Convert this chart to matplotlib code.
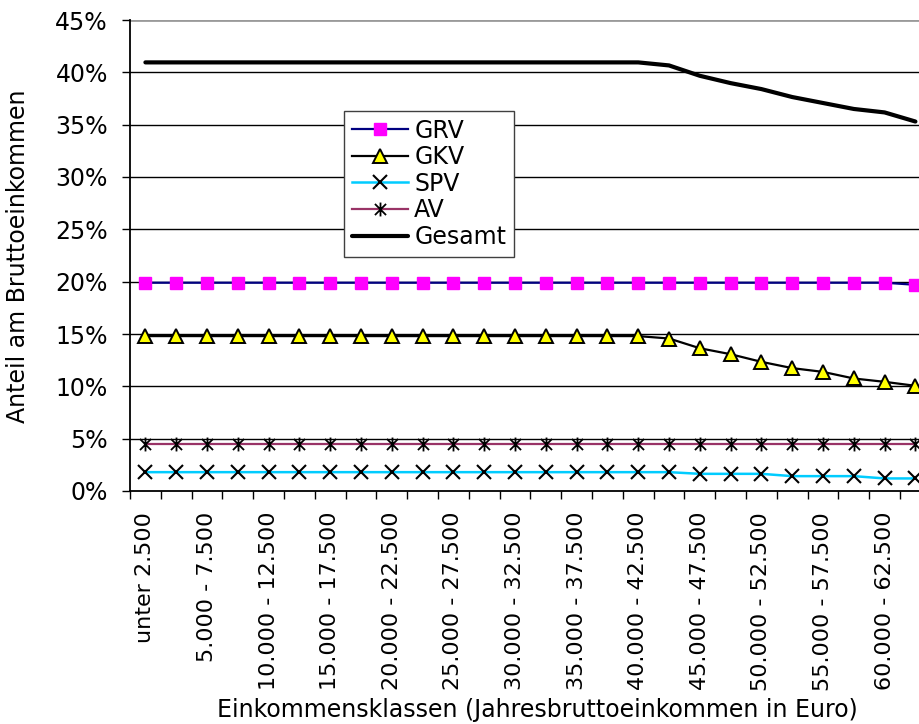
import numpy as np
import matplotlib
matplotlib.use("Agg")
import matplotlib.pyplot as plt
from matplotlib.path import Path

plt.rcParams["font.family"] = ["DejaVu Sans"]
FS = 17

# income classes (Jahresbruttoeinkommen, Euro), 2.500 steps
classes = ["unter 2.500", "2.500 - 5.000", "5.000 - 7.500", "7.500 - 10.000",
           "10.000 - 12.500", "12.500 - 15.000", "15.000 - 17.500", "17.500 - 20.000",
           "20.000 - 22.500", "22.500 - 25.000", "25.000 - 27.500", "27.500 - 30.000",
           "30.000 - 32.500", "32.500 - 35.000", "35.000 - 37.500", "37.500 - 40.000",
           "40.000 - 42.500", "42.500 - 45.000", "45.000 - 47.500", "47.500 - 50.000",
           "50.000 - 52.500", "52.500 - 55.000", "55.000 - 57.500", "57.500 - 60.000",
           "60.000 - 62.500", "62.500 - 65.000"]

# share of gross income, percent
grv = [19.9, 19.9, 19.9, 19.9, 19.9, 19.9, 19.9, 19.9, 19.9, 19.9, 19.9, 19.9, 19.9,
       19.9, 19.9, 19.9, 19.9, 19.9, 19.9, 19.9, 19.9, 19.9, 19.9, 19.9, 19.9, 19.7]
gkv = [14.8, 14.8, 14.8, 14.8, 14.8, 14.8, 14.8, 14.8, 14.8, 14.8, 14.8, 14.8, 14.8,
       14.8, 14.8, 14.8, 14.8, 14.57, 13.64, 13.07, 12.34, 11.74, 11.38, 10.75, 10.43, 10.05]
spv = [1.8, 1.8, 1.8, 1.8, 1.8, 1.8, 1.8, 1.8, 1.8, 1.8, 1.8, 1.8, 1.8,
       1.8, 1.8, 1.8, 1.8, 1.8, 1.64, 1.64, 1.64, 1.42, 1.42, 1.42, 1.2, 1.2]
av = [4.5, 4.5, 4.5, 4.5, 4.5, 4.5, 4.5, 4.5, 4.5, 4.5, 4.5, 4.5, 4.5,
      4.5, 4.5, 4.5, 4.5, 4.5, 4.5, 4.5, 4.5, 4.5, 4.5, 4.5, 4.5, 4.5]
gesamt = [40.95, 40.95, 40.95, 40.95, 40.95, 40.95, 40.95, 40.95, 40.95, 40.95, 40.95,
          40.95, 40.95, 40.95, 40.95, 40.95, 40.95, 40.66, 39.67, 38.97, 38.4, 37.64,
          37.07, 36.5, 36.17, 35.3]

yticks = [0, 5, 10, 15, 20, 25, 30, 35, 40, 45]

# excel-like asterisk: X plus vertical bar
STAR = Path([(-1, -1), (1, 1), (-1, 1), (1, -1), (0, -1.25), (0, 1.25)],
            [Path.MOVETO, Path.LINETO] * 3)

W, H = 919, 724
fig = plt.figure(figsize=(W / 100, H / 100), dpi=100)
step = 30.8
ax = fig.add_axes([130 / W, 1 - 491 / H, len(classes) * step / W, (491 - 20) / H])

x = np.arange(len(classes))
for v in yticks[1:-1]:
    ax.axhline(v, color="black", lw=1.0, zorder=1)
ax.axhline(yticks[-1], color="#9a9a9a", lw=2.0, zorder=1)

ax.plot(x, grv, color="#000080", lw=1.6, marker="s", ms=9, mfc="#ff00ff",
        mec="#ff00ff", label="GRV", zorder=3)
ax.plot(x, gkv, color="black", lw=1.6, marker="^", ms=10, mfc="#ffff00",
        mec="black", mew=1.4, label="GKV", zorder=3)
ax.plot(x, spv, color="#00ccff", lw=1.8, marker="x", ms=10, mec="black",
        mew=1.5, label="SPV", zorder=3)
ax.plot(x, av, color="#993366", lw=1.6, marker=STAR, ms=10, mec="black",
        mew=1.3, label="AV", zorder=3)
ax.plot(x, gesamt, color="black", lw=3.0, solid_joinstyle="round",
        solid_capstyle="round", label="Gesamt", zorder=4)

ax.set_xlim(-0.5, len(classes) - 0.5)
ax.set_ylim(0, 45)
ax.set_yticks(yticks)
ax.set_yticklabels([f"{v}%" for v in yticks])
ax.set_xticks(x[::2])
ax.set_xticklabels(classes[::2], rotation=90)
ax.set_xticks(np.arange(len(classes) + 1) - 0.5, minor=True)
ax.tick_params(axis="x", which="major", length=0, pad=15, labelsize=16)
ax.tick_params(axis="x", which="minor", length=6, width=1.0, direction="out")
ax.tick_params(axis="y", length=6, width=1.0, pad=10, labelsize=FS)

for s in ["top", "right"]:
    ax.spines[s].set_visible(False)
for s in ["left", "bottom"]:
    ax.spines[s].set_linewidth(1.3)

fig.text(18 / W, 1 - 256 / H, "Anteil am Bruttoeinkommen", rotation=90,
         ha="center", va="center", fontsize=FS)
fig.text(537 / W, 1 - 710 / H, "Einkommensklassen (Jahresbruttoeinkommen in Euro)",
         ha="center", va="center", fontsize=FS)

leg = ax.legend(loc="upper left", bbox_to_anchor=(344 / W, 1 - 111 / H),
                bbox_transform=fig.transFigure, fontsize=FS, frameon=True,
                fancybox=False, framealpha=1, edgecolor="#404040", numpoints=1,
                labelspacing=0.11, handlelength=2.4, handletextpad=0.25,
                borderpad=0.32, borderaxespad=0)
leg.get_frame().set_linewidth(1.0)
leg.set_zorder(5)

fig.savefig("out.png", dpi=100)
